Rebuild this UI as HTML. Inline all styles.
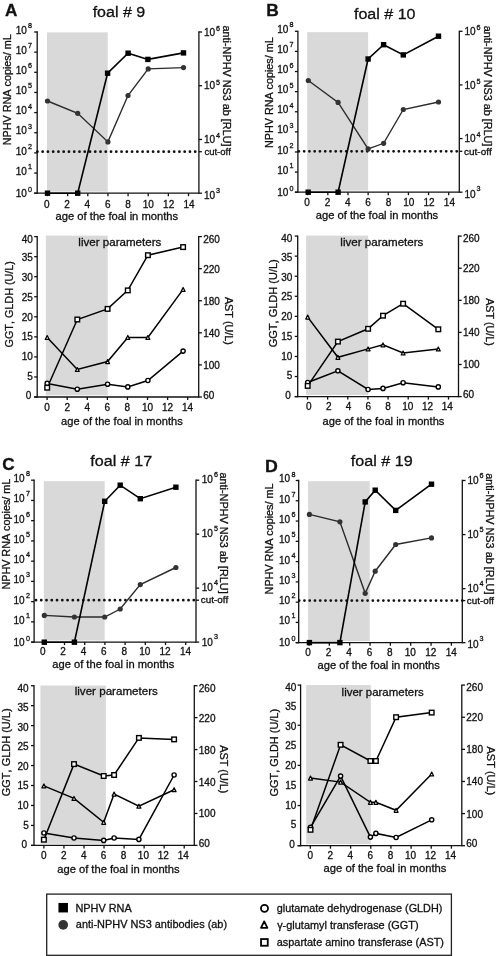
<!DOCTYPE html>
<html><head><meta charset="utf-8"><style>
html,body{margin:0;padding:0;background:#fff;width:497px;height:956px;overflow:hidden}
svg{display:block;will-change:transform;font-family:"Liberation Sans",sans-serif;font-kerning:none}
text{stroke:#111;stroke-width:0.3px}
</style></head><body>
<svg width="497" height="956" viewBox="0 0 497 956">
<rect x="47" y="32.4" width="60.7" height="159.2" fill="#d9d9d9"/>
<line x1="37.4" y1="151.7" x2="198.9" y2="151.7" stroke="#111" stroke-width="2.8" stroke-linecap="round" stroke-dasharray="0 5.26"/>
<line x1="37.2" y1="31.35" x2="37.2" y2="193.85" stroke="#111" stroke-width="1.3"/>
<line x1="198.9" y1="31.35" x2="198.9" y2="193.85" stroke="#111" stroke-width="1.3"/>
<line x1="34.2" y1="193.2" x2="198.9" y2="193.2" stroke="#111" stroke-width="1.3"/>
<line x1="34.2" y1="193.2" x2="37.2" y2="193.2" stroke="#111" stroke-width="1.3"/>
<text x="26.8" y="196.6" font-size="10" text-anchor="end" fill="#111">10</text>
<text x="28" y="191.7" font-size="7.2" fill="#111">0</text>
<line x1="34.2" y1="173.05" x2="37.2" y2="173.05" stroke="#111" stroke-width="1.3"/>
<text x="26.8" y="174.65" font-size="10" text-anchor="end" fill="#111">10</text>
<text x="28" y="169.05" font-size="7.2" fill="#111">1</text>
<line x1="34.2" y1="152.9" x2="37.2" y2="152.9" stroke="#111" stroke-width="1.3"/>
<text x="26.8" y="154.5" font-size="10" text-anchor="end" fill="#111">10</text>
<text x="28" y="148.9" font-size="7.2" fill="#111">2</text>
<line x1="34.2" y1="132.75" x2="37.2" y2="132.75" stroke="#111" stroke-width="1.3"/>
<text x="26.8" y="134.35" font-size="10" text-anchor="end" fill="#111">10</text>
<text x="28" y="128.75" font-size="7.2" fill="#111">3</text>
<line x1="34.2" y1="112.6" x2="37.2" y2="112.6" stroke="#111" stroke-width="1.3"/>
<text x="26.8" y="114.2" font-size="10" text-anchor="end" fill="#111">10</text>
<text x="28" y="108.6" font-size="7.2" fill="#111">4</text>
<line x1="34.2" y1="92.45" x2="37.2" y2="92.45" stroke="#111" stroke-width="1.3"/>
<text x="26.8" y="94.05" font-size="10" text-anchor="end" fill="#111">10</text>
<text x="28" y="88.45" font-size="7.2" fill="#111">5</text>
<line x1="34.2" y1="72.3" x2="37.2" y2="72.3" stroke="#111" stroke-width="1.3"/>
<text x="26.8" y="73.9" font-size="10" text-anchor="end" fill="#111">10</text>
<text x="28" y="68.3" font-size="7.2" fill="#111">6</text>
<line x1="34.2" y1="52.15" x2="37.2" y2="52.15" stroke="#111" stroke-width="1.3"/>
<text x="26.8" y="53.75" font-size="10" text-anchor="end" fill="#111">10</text>
<text x="28" y="48.15" font-size="7.2" fill="#111">7</text>
<line x1="34.2" y1="32" x2="37.2" y2="32" stroke="#111" stroke-width="1.3"/>
<text x="26.8" y="33.6" font-size="10" text-anchor="end" fill="#111">10</text>
<text x="28" y="28" font-size="7.2" fill="#111">8</text>
<line x1="198.9" y1="193.2" x2="202.1" y2="193.2" stroke="#111" stroke-width="1.3"/>
<text x="204" y="198.6" font-size="10" fill="#111">10</text>
<text x="216.1" y="192.7" font-size="7.2" fill="#111">3</text>
<line x1="198.9" y1="139.47" x2="202.1" y2="139.47" stroke="#111" stroke-width="1.3"/>
<text x="204" y="143.07" font-size="10" fill="#111">10</text>
<text x="216.1" y="138.47" font-size="7.2" fill="#111">4</text>
<line x1="198.9" y1="85.73" x2="202.1" y2="85.73" stroke="#111" stroke-width="1.3"/>
<text x="204" y="89.33" font-size="10" fill="#111">10</text>
<text x="216.1" y="84.73" font-size="7.2" fill="#111">5</text>
<line x1="198.9" y1="32" x2="202.1" y2="32" stroke="#111" stroke-width="1.3"/>
<text x="204" y="35.6" font-size="10" fill="#111">10</text>
<text x="216.1" y="31" font-size="7.2" fill="#111">6</text>
<line x1="198.9" y1="151.7" x2="201.9" y2="151.7" stroke="#111" stroke-width="1.3"/>
<line x1="47.5" y1="193.2" x2="47.5" y2="196.2" stroke="#111" stroke-width="1.3"/>
<text x="46.7" y="207.6" font-size="10" text-anchor="middle" fill="#111">0</text>
<line x1="67.64" y1="193.2" x2="67.64" y2="196.2" stroke="#111" stroke-width="1.3"/>
<text x="67.03" y="207.6" font-size="10" text-anchor="middle" fill="#111">2</text>
<line x1="87.79" y1="193.2" x2="87.79" y2="196.2" stroke="#111" stroke-width="1.3"/>
<text x="87.36" y="207.6" font-size="10" text-anchor="middle" fill="#111">4</text>
<line x1="107.93" y1="193.2" x2="107.93" y2="196.2" stroke="#111" stroke-width="1.3"/>
<text x="107.69" y="207.6" font-size="10" text-anchor="middle" fill="#111">6</text>
<line x1="128.07" y1="193.2" x2="128.07" y2="196.2" stroke="#111" stroke-width="1.3"/>
<text x="128.01" y="207.6" font-size="10" text-anchor="middle" fill="#111">8</text>
<line x1="148.21" y1="193.2" x2="148.21" y2="196.2" stroke="#111" stroke-width="1.3"/>
<text x="148.34" y="207.6" font-size="10" text-anchor="middle" fill="#111">10</text>
<line x1="168.36" y1="193.2" x2="168.36" y2="196.2" stroke="#111" stroke-width="1.3"/>
<text x="168.67" y="207.6" font-size="10" text-anchor="middle" fill="#111">12</text>
<line x1="188.5" y1="193.2" x2="188.5" y2="196.2" stroke="#111" stroke-width="1.3"/>
<text x="189" y="207.6" font-size="10" text-anchor="middle" fill="#111">14</text>
<polyline points="47.5,101 77.7,113.3 107.9,141.9 128,95.5 148.2,68.9 183.5,67.6" fill="none" stroke="#2b2b2b" stroke-width="1.4" stroke-linejoin="miter"/>
<polyline points="47.5,193.2 77.7,193.2 107.6,73.2 128.1,53.2 147.9,59.4 183.5,52.9" fill="none" stroke="#000" stroke-width="1.6" stroke-linejoin="miter"/>
<circle cx="47.5" cy="101" r="2.6" fill="#333"/>
<circle cx="77.7" cy="113.3" r="2.6" fill="#333"/>
<circle cx="107.9" cy="141.9" r="2.6" fill="#333"/>
<circle cx="128" cy="95.5" r="2.6" fill="#333"/>
<circle cx="148.2" cy="68.9" r="2.6" fill="#333"/>
<circle cx="183.5" cy="67.6" r="2.6" fill="#333"/>
<rect x="44.8" y="190.5" width="5.4" height="5.4" fill="#000"/>
<rect x="75" y="190.5" width="5.4" height="5.4" fill="#000"/>
<rect x="104.9" y="70.5" width="5.4" height="5.4" fill="#000"/>
<rect x="125.4" y="50.5" width="5.4" height="5.4" fill="#000"/>
<rect x="145.2" y="56.7" width="5.4" height="5.4" fill="#000"/>
<rect x="180.8" y="50.2" width="5.4" height="5.4" fill="#000"/>
<text x="4.97" y="16" font-size="16" textLength="12.38" lengthAdjust="spacingAndGlyphs" fill="#111" font-weight="bold">A</text>
<text x="92.67" y="17.2" font-size="15.5" textLength="52.48" lengthAdjust="spacingAndGlyphs" fill="#111">foal # 9</text>
<text transform="translate(11.2,145.18) rotate(-90)" font-size="10.3" textLength="110.84" lengthAdjust="spacingAndGlyphs" fill="#111">NPHV RNA copies/ mL</text>
<text transform="translate(222.8,25.54) rotate(90)" font-size="10.3" textLength="120.93" lengthAdjust="spacingAndGlyphs" fill="#111">anti-NPHV NS3 ab [RLU]</text>
<text x="204.4" y="155.3" font-size="9" textLength="26.39" lengthAdjust="spacingAndGlyphs" fill="#111">cut-off</text>
<text x="55.52" y="220.1" font-size="11" textLength="122.68" lengthAdjust="spacingAndGlyphs" fill="#111">age of the foal in months</text>
<rect x="45.8" y="235.6" width="61.9" height="159.8" fill="#d9d9d9"/>
<line x1="37.2" y1="235.95" x2="37.2" y2="397.65" stroke="#111" stroke-width="1.3"/>
<line x1="198.7" y1="235.95" x2="198.7" y2="397.65" stroke="#111" stroke-width="1.3"/>
<line x1="34.2" y1="397" x2="198.7" y2="397" stroke="#111" stroke-width="1.3"/>
<line x1="34.2" y1="397" x2="37.2" y2="397" stroke="#111" stroke-width="1.3"/>
<text x="31.3" y="399.38" font-size="10" text-anchor="end" fill="#111">0</text>
<line x1="34.2" y1="376.95" x2="37.2" y2="376.95" stroke="#111" stroke-width="1.3"/>
<text x="32.9" y="379.67" font-size="10" text-anchor="end" fill="#111">5</text>
<line x1="34.2" y1="356.9" x2="37.2" y2="356.9" stroke="#111" stroke-width="1.3"/>
<text x="32.9" y="359.95" font-size="10" text-anchor="end" fill="#111">10</text>
<line x1="34.2" y1="336.85" x2="37.2" y2="336.85" stroke="#111" stroke-width="1.3"/>
<text x="32.9" y="340.24" font-size="10" text-anchor="end" fill="#111">15</text>
<line x1="34.2" y1="316.8" x2="37.2" y2="316.8" stroke="#111" stroke-width="1.3"/>
<text x="32.9" y="320.53" font-size="10" text-anchor="end" fill="#111">20</text>
<line x1="34.2" y1="296.75" x2="37.2" y2="296.75" stroke="#111" stroke-width="1.3"/>
<text x="32.9" y="300.82" font-size="10" text-anchor="end" fill="#111">25</text>
<line x1="34.2" y1="276.7" x2="37.2" y2="276.7" stroke="#111" stroke-width="1.3"/>
<text x="32.9" y="281.1" font-size="10" text-anchor="end" fill="#111">30</text>
<line x1="34.2" y1="256.65" x2="37.2" y2="256.65" stroke="#111" stroke-width="1.3"/>
<text x="32.9" y="261.39" font-size="10" text-anchor="end" fill="#111">35</text>
<line x1="34.2" y1="236.6" x2="37.2" y2="236.6" stroke="#111" stroke-width="1.3"/>
<text x="32.9" y="242.88" font-size="10" text-anchor="end" fill="#111">40</text>
<line x1="198.7" y1="397" x2="201.9" y2="397" stroke="#111" stroke-width="1.3"/>
<text x="203.2" y="398.58" font-size="10" fill="#111">60</text>
<line x1="198.7" y1="364.92" x2="201.9" y2="364.92" stroke="#111" stroke-width="1.3"/>
<text x="203.2" y="368.9" font-size="10" fill="#111">100</text>
<line x1="198.7" y1="332.84" x2="201.9" y2="332.84" stroke="#111" stroke-width="1.3"/>
<text x="203.2" y="336.82" font-size="10" fill="#111">140</text>
<line x1="198.7" y1="300.76" x2="201.9" y2="300.76" stroke="#111" stroke-width="1.3"/>
<text x="203.2" y="304.74" font-size="10" fill="#111">180</text>
<line x1="198.7" y1="268.68" x2="201.9" y2="268.68" stroke="#111" stroke-width="1.3"/>
<text x="203.2" y="272.66" font-size="10" fill="#111">220</text>
<line x1="198.7" y1="236.6" x2="201.9" y2="236.6" stroke="#111" stroke-width="1.3"/>
<text x="203.2" y="242.98" font-size="10" fill="#111">260</text>
<line x1="47.1" y1="397" x2="47.1" y2="400" stroke="#111" stroke-width="1.3"/>
<text x="47.1" y="411" font-size="10" text-anchor="middle" fill="#111">0</text>
<line x1="67.19" y1="397" x2="67.19" y2="400" stroke="#111" stroke-width="1.3"/>
<text x="67.17" y="411" font-size="10" text-anchor="middle" fill="#111">2</text>
<line x1="87.27" y1="397" x2="87.27" y2="400" stroke="#111" stroke-width="1.3"/>
<text x="87.24" y="411" font-size="10" text-anchor="middle" fill="#111">4</text>
<line x1="107.36" y1="397" x2="107.36" y2="400" stroke="#111" stroke-width="1.3"/>
<text x="107.31" y="411" font-size="10" text-anchor="middle" fill="#111">6</text>
<line x1="127.44" y1="397" x2="127.44" y2="400" stroke="#111" stroke-width="1.3"/>
<text x="127.39" y="411" font-size="10" text-anchor="middle" fill="#111">8</text>
<line x1="147.53" y1="397" x2="147.53" y2="400" stroke="#111" stroke-width="1.3"/>
<text x="147.46" y="411" font-size="10" text-anchor="middle" fill="#111">10</text>
<line x1="167.61" y1="397" x2="167.61" y2="400" stroke="#111" stroke-width="1.3"/>
<text x="167.53" y="411" font-size="10" text-anchor="middle" fill="#111">12</text>
<line x1="187.7" y1="397" x2="187.7" y2="400" stroke="#111" stroke-width="1.3"/>
<text x="187.6" y="411" font-size="10" text-anchor="middle" fill="#111">14</text>
<polyline points="47.2,383.4 77.3,389.2 107.6,384.2 127.8,386.9 147.9,380.5 183.1,351.1" fill="none" stroke="#000" stroke-width="1.5" stroke-linejoin="miter"/>
<polyline points="47.2,337.5 77.3,369.5 107.6,361.6 127.8,337.4 147.9,337.4 183.1,289.4" fill="none" stroke="#000" stroke-width="1.5" stroke-linejoin="miter"/>
<polyline points="47.2,387.7 77.3,319.5 107.6,308.9 127.8,290.4 147.9,255.2 183.1,247.1" fill="none" stroke="#000" stroke-width="1.5" stroke-linejoin="miter"/>
<circle cx="47.2" cy="383.4" r="2.1" fill="#fff" stroke="#000" stroke-width="1.4"/>
<circle cx="77.3" cy="389.2" r="2.1" fill="#fff" stroke="#000" stroke-width="1.4"/>
<circle cx="107.6" cy="384.2" r="2.1" fill="#fff" stroke="#000" stroke-width="1.4"/>
<circle cx="127.8" cy="386.9" r="2.1" fill="#fff" stroke="#000" stroke-width="1.4"/>
<circle cx="147.9" cy="380.5" r="2.1" fill="#fff" stroke="#000" stroke-width="1.4"/>
<circle cx="183.1" cy="351.1" r="2.1" fill="#fff" stroke="#000" stroke-width="1.4"/>
<polygon points="47.2,335.55 45.25,339.45 49.15,339.45" fill="#fff" stroke="#000" stroke-width="1.25" stroke-linejoin="round"/>
<polygon points="77.3,367.55 75.35,371.45 79.25,371.45" fill="#fff" stroke="#000" stroke-width="1.25" stroke-linejoin="round"/>
<polygon points="107.6,359.65 105.65,363.55 109.55,363.55" fill="#fff" stroke="#000" stroke-width="1.25" stroke-linejoin="round"/>
<polygon points="127.8,335.45 125.85,339.35 129.75,339.35" fill="#fff" stroke="#000" stroke-width="1.25" stroke-linejoin="round"/>
<polygon points="147.9,335.45 145.95,339.35 149.85,339.35" fill="#fff" stroke="#000" stroke-width="1.25" stroke-linejoin="round"/>
<polygon points="183.1,287.45 181.15,291.35 185.05,291.35" fill="#fff" stroke="#000" stroke-width="1.25" stroke-linejoin="round"/>
<rect x="44.9" y="385.4" width="4.6" height="4.6" fill="#fff" stroke="#000" stroke-width="1.4"/>
<rect x="75" y="317.2" width="4.6" height="4.6" fill="#fff" stroke="#000" stroke-width="1.4"/>
<rect x="105.3" y="306.6" width="4.6" height="4.6" fill="#fff" stroke="#000" stroke-width="1.4"/>
<rect x="125.5" y="288.1" width="4.6" height="4.6" fill="#fff" stroke="#000" stroke-width="1.4"/>
<rect x="145.6" y="252.9" width="4.6" height="4.6" fill="#fff" stroke="#000" stroke-width="1.4"/>
<rect x="180.8" y="244.8" width="4.6" height="4.6" fill="#fff" stroke="#000" stroke-width="1.4"/>
<text x="78.32" y="245.9" font-size="11" textLength="83" lengthAdjust="spacingAndGlyphs" fill="#111">liver parameters</text>
<text transform="translate(12.6,347.44) rotate(-90)" font-size="10.3" textLength="86.41" lengthAdjust="spacingAndGlyphs" fill="#111">GGT, GLDH (U/L)</text>
<text transform="translate(225.2,296.88) rotate(90)" font-size="10.3" textLength="48.09" lengthAdjust="spacingAndGlyphs" fill="#111">AST (U/L)</text>
<text x="61.13" y="424.6" font-size="11" textLength="121.57" lengthAdjust="spacingAndGlyphs" fill="#111">age of the foal in months</text>
<rect x="307.2" y="32.2" width="60.9" height="158.4" fill="#d9d9d9"/>
<line x1="298.9" y1="151.3" x2="459.3" y2="151.3" stroke="#111" stroke-width="2.8" stroke-linecap="round" stroke-dasharray="0 5.26"/>
<line x1="297.9" y1="30.65" x2="297.9" y2="192.85" stroke="#111" stroke-width="1.3"/>
<line x1="459.3" y1="30.65" x2="459.3" y2="192.85" stroke="#111" stroke-width="1.3"/>
<line x1="294.9" y1="192.2" x2="459.3" y2="192.2" stroke="#111" stroke-width="1.3"/>
<line x1="294.9" y1="192.2" x2="297.9" y2="192.2" stroke="#111" stroke-width="1.3"/>
<text x="288.3" y="195.6" font-size="10" text-anchor="end" fill="#111">10</text>
<text x="289.5" y="190.7" font-size="7.2" fill="#111">0</text>
<line x1="294.9" y1="172.09" x2="297.9" y2="172.09" stroke="#111" stroke-width="1.3"/>
<text x="288.3" y="173.69" font-size="10" text-anchor="end" fill="#111">10</text>
<text x="289.5" y="168.09" font-size="7.2" fill="#111">1</text>
<line x1="294.9" y1="151.97" x2="297.9" y2="151.97" stroke="#111" stroke-width="1.3"/>
<text x="288.3" y="153.57" font-size="10" text-anchor="end" fill="#111">10</text>
<text x="289.5" y="147.97" font-size="7.2" fill="#111">2</text>
<line x1="294.9" y1="131.86" x2="297.9" y2="131.86" stroke="#111" stroke-width="1.3"/>
<text x="288.3" y="133.46" font-size="10" text-anchor="end" fill="#111">10</text>
<text x="289.5" y="127.86" font-size="7.2" fill="#111">3</text>
<line x1="294.9" y1="111.75" x2="297.9" y2="111.75" stroke="#111" stroke-width="1.3"/>
<text x="288.3" y="113.35" font-size="10" text-anchor="end" fill="#111">10</text>
<text x="289.5" y="107.75" font-size="7.2" fill="#111">4</text>
<line x1="294.9" y1="91.64" x2="297.9" y2="91.64" stroke="#111" stroke-width="1.3"/>
<text x="288.3" y="93.24" font-size="10" text-anchor="end" fill="#111">10</text>
<text x="289.5" y="87.64" font-size="7.2" fill="#111">5</text>
<line x1="294.9" y1="71.53" x2="297.9" y2="71.53" stroke="#111" stroke-width="1.3"/>
<text x="288.3" y="73.12" font-size="10" text-anchor="end" fill="#111">10</text>
<text x="289.5" y="67.53" font-size="7.2" fill="#111">6</text>
<line x1="294.9" y1="51.41" x2="297.9" y2="51.41" stroke="#111" stroke-width="1.3"/>
<text x="288.3" y="53.01" font-size="10" text-anchor="end" fill="#111">10</text>
<text x="289.5" y="47.41" font-size="7.2" fill="#111">7</text>
<line x1="294.9" y1="31.3" x2="297.9" y2="31.3" stroke="#111" stroke-width="1.3"/>
<text x="288.3" y="32.9" font-size="10" text-anchor="end" fill="#111">10</text>
<text x="289.5" y="27.3" font-size="7.2" fill="#111">8</text>
<line x1="459.3" y1="192.2" x2="462.5" y2="192.2" stroke="#111" stroke-width="1.3"/>
<text x="464.4" y="197.9" font-size="10" fill="#111">10</text>
<text x="476.5" y="191.3" font-size="7.2" fill="#111">3</text>
<line x1="459.3" y1="138.57" x2="462.5" y2="138.57" stroke="#111" stroke-width="1.3"/>
<text x="464.4" y="142.47" font-size="10" fill="#111">10</text>
<text x="476.5" y="137.17" font-size="7.2" fill="#111">4</text>
<line x1="459.3" y1="84.93" x2="462.5" y2="84.93" stroke="#111" stroke-width="1.3"/>
<text x="464.4" y="88.83" font-size="10" fill="#111">10</text>
<text x="476.5" y="83.53" font-size="7.2" fill="#111">5</text>
<line x1="459.3" y1="31.3" x2="462.5" y2="31.3" stroke="#111" stroke-width="1.3"/>
<text x="464.4" y="35.2" font-size="10" fill="#111">10</text>
<text x="476.5" y="29.9" font-size="7.2" fill="#111">6</text>
<line x1="459.3" y1="151.3" x2="462.3" y2="151.3" stroke="#111" stroke-width="1.3"/>
<line x1="307.7" y1="192.2" x2="307.7" y2="195.2" stroke="#111" stroke-width="1.3"/>
<text x="307.1" y="206.4" font-size="10" text-anchor="middle" fill="#111">0</text>
<line x1="327.84" y1="192.2" x2="327.84" y2="195.2" stroke="#111" stroke-width="1.3"/>
<text x="327.43" y="206.4" font-size="10" text-anchor="middle" fill="#111">2</text>
<line x1="347.99" y1="192.2" x2="347.99" y2="195.2" stroke="#111" stroke-width="1.3"/>
<text x="347.76" y="206.4" font-size="10" text-anchor="middle" fill="#111">4</text>
<line x1="368.13" y1="192.2" x2="368.13" y2="195.2" stroke="#111" stroke-width="1.3"/>
<text x="368.09" y="206.4" font-size="10" text-anchor="middle" fill="#111">6</text>
<line x1="388.27" y1="192.2" x2="388.27" y2="195.2" stroke="#111" stroke-width="1.3"/>
<text x="388.41" y="206.4" font-size="10" text-anchor="middle" fill="#111">8</text>
<line x1="408.41" y1="192.2" x2="408.41" y2="195.2" stroke="#111" stroke-width="1.3"/>
<text x="408.74" y="206.4" font-size="10" text-anchor="middle" fill="#111">10</text>
<line x1="428.56" y1="192.2" x2="428.56" y2="195.2" stroke="#111" stroke-width="1.3"/>
<text x="429.07" y="206.4" font-size="10" text-anchor="middle" fill="#111">12</text>
<line x1="448.7" y1="192.2" x2="448.7" y2="195.2" stroke="#111" stroke-width="1.3"/>
<text x="449.4" y="206.4" font-size="10" text-anchor="middle" fill="#111">14</text>
<polyline points="308.3,80.5 338.1,102.4 368.1,148.9 383.6,143.3 403.3,109.5 438.5,102" fill="none" stroke="#2b2b2b" stroke-width="1.4" stroke-linejoin="miter"/>
<polyline points="308.2,192.2 338.1,192.2 368.1,59 383.6,44.7 403.3,54.9 438.5,36.2" fill="none" stroke="#000" stroke-width="1.6" stroke-linejoin="miter"/>
<circle cx="308.3" cy="80.5" r="2.6" fill="#333"/>
<circle cx="338.1" cy="102.4" r="2.6" fill="#333"/>
<circle cx="368.1" cy="148.9" r="2.6" fill="#333"/>
<circle cx="383.6" cy="143.3" r="2.6" fill="#333"/>
<circle cx="403.3" cy="109.5" r="2.6" fill="#333"/>
<circle cx="438.5" cy="102" r="2.6" fill="#333"/>
<rect x="305.5" y="189.5" width="5.4" height="5.4" fill="#000"/>
<rect x="335.4" y="189.5" width="5.4" height="5.4" fill="#000"/>
<rect x="365.4" y="56.3" width="5.4" height="5.4" fill="#000"/>
<rect x="380.9" y="42" width="5.4" height="5.4" fill="#000"/>
<rect x="400.6" y="52.2" width="5.4" height="5.4" fill="#000"/>
<rect x="435.8" y="33.5" width="5.4" height="5.4" fill="#000"/>
<text x="266.34" y="15.6" font-size="16" textLength="12.55" lengthAdjust="spacingAndGlyphs" fill="#111" font-weight="bold">B</text>
<text x="353.97" y="18.8" font-size="15.5" textLength="61.55" lengthAdjust="spacingAndGlyphs" fill="#111">foal # 10</text>
<text transform="translate(273.1,147.98) rotate(-90)" font-size="10.3" textLength="110.64" lengthAdjust="spacingAndGlyphs" fill="#111">NPHV RNA copies/ mL</text>
<text transform="translate(484.3,25.64) rotate(90)" font-size="10.3" textLength="120.63" lengthAdjust="spacingAndGlyphs" fill="#111">anti-NPHV NS3 ab [RLU]</text>
<text x="464.08" y="154.6" font-size="9" textLength="27.61" lengthAdjust="spacingAndGlyphs" fill="#111">cut-off</text>
<text x="315.72" y="218.7" font-size="11" textLength="122.48" lengthAdjust="spacingAndGlyphs" fill="#111">age of the foal in months</text>
<rect x="306.1" y="235.6" width="62" height="159.4" fill="#d9d9d9"/>
<line x1="297.7" y1="235.45" x2="297.7" y2="397.25" stroke="#111" stroke-width="1.3"/>
<line x1="458.5" y1="235.45" x2="458.5" y2="397.25" stroke="#111" stroke-width="1.3"/>
<line x1="294.7" y1="396.6" x2="458.5" y2="396.6" stroke="#111" stroke-width="1.3"/>
<line x1="294.7" y1="396.6" x2="297.7" y2="396.6" stroke="#111" stroke-width="1.3"/>
<text x="290.7" y="398.98" font-size="10" text-anchor="end" fill="#111">0</text>
<line x1="294.7" y1="376.54" x2="297.7" y2="376.54" stroke="#111" stroke-width="1.3"/>
<text x="292.3" y="379.25" font-size="10" text-anchor="end" fill="#111">5</text>
<line x1="294.7" y1="356.48" x2="297.7" y2="356.48" stroke="#111" stroke-width="1.3"/>
<text x="292.3" y="359.53" font-size="10" text-anchor="end" fill="#111">10</text>
<line x1="294.7" y1="336.41" x2="297.7" y2="336.41" stroke="#111" stroke-width="1.3"/>
<text x="292.3" y="339.81" font-size="10" text-anchor="end" fill="#111">15</text>
<line x1="294.7" y1="316.35" x2="297.7" y2="316.35" stroke="#111" stroke-width="1.3"/>
<text x="292.3" y="320.08" font-size="10" text-anchor="end" fill="#111">20</text>
<line x1="294.7" y1="296.29" x2="297.7" y2="296.29" stroke="#111" stroke-width="1.3"/>
<text x="292.3" y="300.36" font-size="10" text-anchor="end" fill="#111">25</text>
<line x1="294.7" y1="276.23" x2="297.7" y2="276.23" stroke="#111" stroke-width="1.3"/>
<text x="292.3" y="280.63" font-size="10" text-anchor="end" fill="#111">30</text>
<line x1="294.7" y1="256.16" x2="297.7" y2="256.16" stroke="#111" stroke-width="1.3"/>
<text x="292.3" y="260.91" font-size="10" text-anchor="end" fill="#111">35</text>
<line x1="294.7" y1="236.1" x2="297.7" y2="236.1" stroke="#111" stroke-width="1.3"/>
<text x="292.3" y="242.38" font-size="10" text-anchor="end" fill="#111">40</text>
<line x1="458.5" y1="396.6" x2="461.7" y2="396.6" stroke="#111" stroke-width="1.3"/>
<text x="463" y="398.18" font-size="10" fill="#111">60</text>
<line x1="458.5" y1="364.5" x2="461.7" y2="364.5" stroke="#111" stroke-width="1.3"/>
<text x="463" y="368.48" font-size="10" fill="#111">100</text>
<line x1="458.5" y1="332.4" x2="461.7" y2="332.4" stroke="#111" stroke-width="1.3"/>
<text x="463" y="336.38" font-size="10" fill="#111">140</text>
<line x1="458.5" y1="300.3" x2="461.7" y2="300.3" stroke="#111" stroke-width="1.3"/>
<text x="463" y="304.28" font-size="10" fill="#111">180</text>
<line x1="458.5" y1="268.2" x2="461.7" y2="268.2" stroke="#111" stroke-width="1.3"/>
<text x="463" y="272.18" font-size="10" fill="#111">220</text>
<line x1="458.5" y1="236.1" x2="461.7" y2="236.1" stroke="#111" stroke-width="1.3"/>
<text x="463" y="242.48" font-size="10" fill="#111">260</text>
<line x1="307.5" y1="396.6" x2="307.5" y2="399.6" stroke="#111" stroke-width="1.3"/>
<text x="308.9" y="409.5" font-size="10" text-anchor="middle" fill="#111">0</text>
<line x1="327.64" y1="396.6" x2="327.64" y2="399.6" stroke="#111" stroke-width="1.3"/>
<text x="328.66" y="409.5" font-size="10" text-anchor="middle" fill="#111">2</text>
<line x1="347.79" y1="396.6" x2="347.79" y2="399.6" stroke="#111" stroke-width="1.3"/>
<text x="348.41" y="409.5" font-size="10" text-anchor="middle" fill="#111">4</text>
<line x1="367.93" y1="396.6" x2="367.93" y2="399.6" stroke="#111" stroke-width="1.3"/>
<text x="368.17" y="409.5" font-size="10" text-anchor="middle" fill="#111">6</text>
<line x1="388.07" y1="396.6" x2="388.07" y2="399.6" stroke="#111" stroke-width="1.3"/>
<text x="387.93" y="409.5" font-size="10" text-anchor="middle" fill="#111">8</text>
<line x1="408.21" y1="396.6" x2="408.21" y2="399.6" stroke="#111" stroke-width="1.3"/>
<text x="407.69" y="409.5" font-size="10" text-anchor="middle" fill="#111">10</text>
<line x1="428.36" y1="396.6" x2="428.36" y2="399.6" stroke="#111" stroke-width="1.3"/>
<text x="427.44" y="409.5" font-size="10" text-anchor="middle" fill="#111">12</text>
<line x1="448.5" y1="396.6" x2="448.5" y2="399.6" stroke="#111" stroke-width="1.3"/>
<text x="447.2" y="409.5" font-size="10" text-anchor="middle" fill="#111">14</text>
<polyline points="307.7,382.5 337.9,370.8 368.1,389.5 383,388.4 403.1,382.7 438.3,386.9" fill="none" stroke="#000" stroke-width="1.5" stroke-linejoin="miter"/>
<polyline points="307.7,317.1 337.9,357.3 368.1,348.9 383,344.9 403.1,353 438.3,349" fill="none" stroke="#000" stroke-width="1.5" stroke-linejoin="miter"/>
<polyline points="307.7,385.9 337.9,341.6 368.1,328.8 383,315.7 403.1,303.7 438.3,329.3" fill="none" stroke="#000" stroke-width="1.5" stroke-linejoin="miter"/>
<circle cx="307.7" cy="382.5" r="2.1" fill="#fff" stroke="#000" stroke-width="1.4"/>
<circle cx="337.9" cy="370.8" r="2.1" fill="#fff" stroke="#000" stroke-width="1.4"/>
<circle cx="368.1" cy="389.5" r="2.1" fill="#fff" stroke="#000" stroke-width="1.4"/>
<circle cx="383" cy="388.4" r="2.1" fill="#fff" stroke="#000" stroke-width="1.4"/>
<circle cx="403.1" cy="382.7" r="2.1" fill="#fff" stroke="#000" stroke-width="1.4"/>
<circle cx="438.3" cy="386.9" r="2.1" fill="#fff" stroke="#000" stroke-width="1.4"/>
<polygon points="307.7,315.15 305.75,319.05 309.65,319.05" fill="#fff" stroke="#000" stroke-width="1.25" stroke-linejoin="round"/>
<polygon points="337.9,355.35 335.95,359.25 339.85,359.25" fill="#fff" stroke="#000" stroke-width="1.25" stroke-linejoin="round"/>
<polygon points="368.1,346.95 366.15,350.85 370.05,350.85" fill="#fff" stroke="#000" stroke-width="1.25" stroke-linejoin="round"/>
<polygon points="383,342.95 381.05,346.85 384.95,346.85" fill="#fff" stroke="#000" stroke-width="1.25" stroke-linejoin="round"/>
<polygon points="403.1,351.05 401.15,354.95 405.05,354.95" fill="#fff" stroke="#000" stroke-width="1.25" stroke-linejoin="round"/>
<polygon points="438.3,347.05 436.35,350.95 440.25,350.95" fill="#fff" stroke="#000" stroke-width="1.25" stroke-linejoin="round"/>
<rect x="305.4" y="383.6" width="4.6" height="4.6" fill="#fff" stroke="#000" stroke-width="1.4"/>
<rect x="335.6" y="339.3" width="4.6" height="4.6" fill="#fff" stroke="#000" stroke-width="1.4"/>
<rect x="365.8" y="326.5" width="4.6" height="4.6" fill="#fff" stroke="#000" stroke-width="1.4"/>
<rect x="380.7" y="313.4" width="4.6" height="4.6" fill="#fff" stroke="#000" stroke-width="1.4"/>
<rect x="400.8" y="301.4" width="4.6" height="4.6" fill="#fff" stroke="#000" stroke-width="1.4"/>
<rect x="436" y="327" width="4.6" height="4.6" fill="#fff" stroke="#000" stroke-width="1.4"/>
<text x="340.32" y="245.5" font-size="11" textLength="83.1" lengthAdjust="spacingAndGlyphs" fill="#111">liver parameters</text>
<text transform="translate(277,347.35) rotate(-90)" font-size="10.3" textLength="88.14" lengthAdjust="spacingAndGlyphs" fill="#111">GGT, GLDH (U/L)</text>
<text transform="translate(485.5,298.18) rotate(90)" font-size="10.3" textLength="47.69" lengthAdjust="spacingAndGlyphs" fill="#111">AST (U/L)</text>
<text x="322.53" y="425.2" font-size="11" textLength="121.87" lengthAdjust="spacingAndGlyphs" fill="#111">age of the foal in months</text>
<rect x="43.8" y="481.2" width="60.9" height="159.3" fill="#d9d9d9"/>
<line x1="36" y1="600.2" x2="196" y2="600.2" stroke="#111" stroke-width="2.8" stroke-linecap="round" stroke-dasharray="0 5.26"/>
<line x1="34.1" y1="479.55" x2="34.1" y2="642.75" stroke="#111" stroke-width="1.3"/>
<line x1="196" y1="479.55" x2="196" y2="642.75" stroke="#111" stroke-width="1.3"/>
<line x1="31.1" y1="642.1" x2="196" y2="642.1" stroke="#111" stroke-width="1.3"/>
<line x1="31.1" y1="642.1" x2="34.1" y2="642.1" stroke="#111" stroke-width="1.3"/>
<text x="24.7" y="645.8" font-size="10" text-anchor="end" fill="#111">10</text>
<text x="25.9" y="640.6" font-size="7.2" fill="#111">0</text>
<line x1="31.1" y1="621.86" x2="34.1" y2="621.86" stroke="#111" stroke-width="1.3"/>
<text x="24.7" y="623.76" font-size="10" text-anchor="end" fill="#111">10</text>
<text x="25.9" y="617.86" font-size="7.2" fill="#111">1</text>
<line x1="31.1" y1="601.62" x2="34.1" y2="601.62" stroke="#111" stroke-width="1.3"/>
<text x="24.7" y="603.52" font-size="10" text-anchor="end" fill="#111">10</text>
<text x="25.9" y="597.62" font-size="7.2" fill="#111">2</text>
<line x1="31.1" y1="581.39" x2="34.1" y2="581.39" stroke="#111" stroke-width="1.3"/>
<text x="24.7" y="583.29" font-size="10" text-anchor="end" fill="#111">10</text>
<text x="25.9" y="577.39" font-size="7.2" fill="#111">3</text>
<line x1="31.1" y1="561.15" x2="34.1" y2="561.15" stroke="#111" stroke-width="1.3"/>
<text x="24.7" y="563.05" font-size="10" text-anchor="end" fill="#111">10</text>
<text x="25.9" y="557.15" font-size="7.2" fill="#111">4</text>
<line x1="31.1" y1="540.91" x2="34.1" y2="540.91" stroke="#111" stroke-width="1.3"/>
<text x="24.7" y="542.81" font-size="10" text-anchor="end" fill="#111">10</text>
<text x="25.9" y="536.91" font-size="7.2" fill="#111">5</text>
<line x1="31.1" y1="520.67" x2="34.1" y2="520.67" stroke="#111" stroke-width="1.3"/>
<text x="24.7" y="522.57" font-size="10" text-anchor="end" fill="#111">10</text>
<text x="25.9" y="516.67" font-size="7.2" fill="#111">6</text>
<line x1="31.1" y1="500.44" x2="34.1" y2="500.44" stroke="#111" stroke-width="1.3"/>
<text x="24.7" y="502.34" font-size="10" text-anchor="end" fill="#111">10</text>
<text x="25.9" y="496.44" font-size="7.2" fill="#111">7</text>
<line x1="31.1" y1="480.2" x2="34.1" y2="480.2" stroke="#111" stroke-width="1.3"/>
<text x="24.7" y="482.1" font-size="10" text-anchor="end" fill="#111">10</text>
<text x="25.9" y="476.2" font-size="7.2" fill="#111">8</text>
<line x1="196" y1="642.1" x2="199.2" y2="642.1" stroke="#111" stroke-width="1.3"/>
<text x="201.8" y="646.3" font-size="10" fill="#111">10</text>
<text x="213.9" y="639.4" font-size="7.2" fill="#111">3</text>
<line x1="196" y1="588.13" x2="199.2" y2="588.13" stroke="#111" stroke-width="1.3"/>
<text x="201.8" y="590.53" font-size="10" fill="#111">10</text>
<text x="213.9" y="584.93" font-size="7.2" fill="#111">4</text>
<line x1="196" y1="534.17" x2="199.2" y2="534.17" stroke="#111" stroke-width="1.3"/>
<text x="201.8" y="536.57" font-size="10" fill="#111">10</text>
<text x="213.9" y="530.97" font-size="7.2" fill="#111">5</text>
<line x1="196" y1="480.2" x2="199.2" y2="480.2" stroke="#111" stroke-width="1.3"/>
<text x="201.8" y="482.6" font-size="10" fill="#111">10</text>
<text x="213.9" y="477" font-size="7.2" fill="#111">6</text>
<line x1="196" y1="600.2" x2="199" y2="600.2" stroke="#111" stroke-width="1.3"/>
<line x1="44.3" y1="642.1" x2="44.3" y2="645.1" stroke="#111" stroke-width="1.3"/>
<text x="42.7" y="654.9" font-size="10" text-anchor="middle" fill="#111">0</text>
<line x1="64.5" y1="642.1" x2="64.5" y2="645.1" stroke="#111" stroke-width="1.3"/>
<text x="63.1" y="654.9" font-size="10" text-anchor="middle" fill="#111">2</text>
<line x1="84.7" y1="642.1" x2="84.7" y2="645.1" stroke="#111" stroke-width="1.3"/>
<text x="83.5" y="654.9" font-size="10" text-anchor="middle" fill="#111">4</text>
<line x1="104.9" y1="642.1" x2="104.9" y2="645.1" stroke="#111" stroke-width="1.3"/>
<text x="103.9" y="654.9" font-size="10" text-anchor="middle" fill="#111">6</text>
<line x1="125.1" y1="642.1" x2="125.1" y2="645.1" stroke="#111" stroke-width="1.3"/>
<text x="124.3" y="654.9" font-size="10" text-anchor="middle" fill="#111">8</text>
<line x1="145.3" y1="642.1" x2="145.3" y2="645.1" stroke="#111" stroke-width="1.3"/>
<text x="144.7" y="654.9" font-size="10" text-anchor="middle" fill="#111">10</text>
<line x1="165.5" y1="642.1" x2="165.5" y2="645.1" stroke="#111" stroke-width="1.3"/>
<text x="165.1" y="654.9" font-size="10" text-anchor="middle" fill="#111">12</text>
<line x1="185.7" y1="642.1" x2="185.7" y2="645.1" stroke="#111" stroke-width="1.3"/>
<text x="185.5" y="654.9" font-size="10" text-anchor="middle" fill="#111">14</text>
<polyline points="44.3,615.4 74.4,617 104.7,617 120.2,609 140.3,584.6 175.9,567.5" fill="none" stroke="#2b2b2b" stroke-width="1.4" stroke-linejoin="miter"/>
<polyline points="44.3,642.2 74.4,642.2 104.7,501.3 120.2,485.2 140.3,498.7 175.9,487.2" fill="none" stroke="#000" stroke-width="1.6" stroke-linejoin="miter"/>
<circle cx="44.3" cy="615.4" r="2.6" fill="#333"/>
<circle cx="74.4" cy="617" r="2.6" fill="#333"/>
<circle cx="104.7" cy="617" r="2.6" fill="#333"/>
<circle cx="120.2" cy="609" r="2.6" fill="#333"/>
<circle cx="140.3" cy="584.6" r="2.6" fill="#333"/>
<circle cx="175.9" cy="567.5" r="2.6" fill="#333"/>
<rect x="41.6" y="639.5" width="5.4" height="5.4" fill="#000"/>
<rect x="71.7" y="639.5" width="5.4" height="5.4" fill="#000"/>
<rect x="102" y="498.6" width="5.4" height="5.4" fill="#000"/>
<rect x="117.5" y="482.5" width="5.4" height="5.4" fill="#000"/>
<rect x="137.6" y="496" width="5.4" height="5.4" fill="#000"/>
<rect x="173.2" y="484.5" width="5.4" height="5.4" fill="#000"/>
<text x="2.3" y="469.9" font-size="16" textLength="12.37" lengthAdjust="spacingAndGlyphs" fill="#111" font-weight="bold">C</text>
<text x="90.37" y="466.1" font-size="15.5" textLength="61.84" lengthAdjust="spacingAndGlyphs" fill="#111">foal # 17</text>
<text transform="translate(9.6,589.58) rotate(-90)" font-size="10.3" textLength="110.84" lengthAdjust="spacingAndGlyphs" fill="#111">NPHV RNA copies/ mL</text>
<text transform="translate(220,472.44) rotate(90)" font-size="10.3" textLength="121.23" lengthAdjust="spacingAndGlyphs" fill="#111">anti-NPHV NS3 ab [RLU]</text>
<text x="200.88" y="603.4" font-size="9" textLength="27.4" lengthAdjust="spacingAndGlyphs" fill="#111">cut-off</text>
<text x="52.23" y="668.1" font-size="11" textLength="122.18" lengthAdjust="spacingAndGlyphs" fill="#111">age of the foal in months</text>
<rect x="40.4" y="685.5" width="65.5" height="158.3" fill="#d9d9d9"/>
<line x1="34" y1="685.05" x2="34" y2="846.05" stroke="#111" stroke-width="1.3"/>
<line x1="194.3" y1="685.05" x2="194.3" y2="846.05" stroke="#111" stroke-width="1.3"/>
<line x1="31" y1="845.4" x2="194.3" y2="845.4" stroke="#111" stroke-width="1.3"/>
<line x1="31" y1="845.4" x2="34" y2="845.4" stroke="#111" stroke-width="1.3"/>
<text x="27.1" y="848.28" font-size="10" text-anchor="end" fill="#111">0</text>
<line x1="31" y1="825.44" x2="34" y2="825.44" stroke="#111" stroke-width="1.3"/>
<text x="28.7" y="828.66" font-size="10" text-anchor="end" fill="#111">5</text>
<line x1="31" y1="805.48" x2="34" y2="805.48" stroke="#111" stroke-width="1.3"/>
<text x="28.7" y="809.03" font-size="10" text-anchor="end" fill="#111">10</text>
<line x1="31" y1="785.51" x2="34" y2="785.51" stroke="#111" stroke-width="1.3"/>
<text x="28.7" y="789.41" font-size="10" text-anchor="end" fill="#111">15</text>
<line x1="31" y1="765.55" x2="34" y2="765.55" stroke="#111" stroke-width="1.3"/>
<text x="28.7" y="769.78" font-size="10" text-anchor="end" fill="#111">20</text>
<line x1="31" y1="745.59" x2="34" y2="745.59" stroke="#111" stroke-width="1.3"/>
<text x="28.7" y="750.15" font-size="10" text-anchor="end" fill="#111">25</text>
<line x1="31" y1="725.62" x2="34" y2="725.62" stroke="#111" stroke-width="1.3"/>
<text x="28.7" y="730.53" font-size="10" text-anchor="end" fill="#111">30</text>
<line x1="31" y1="705.66" x2="34" y2="705.66" stroke="#111" stroke-width="1.3"/>
<text x="28.7" y="710.91" font-size="10" text-anchor="end" fill="#111">35</text>
<line x1="31" y1="685.7" x2="34" y2="685.7" stroke="#111" stroke-width="1.3"/>
<text x="28.7" y="692.48" font-size="10" text-anchor="end" fill="#111">40</text>
<line x1="194.3" y1="845.4" x2="197.5" y2="845.4" stroke="#111" stroke-width="1.3"/>
<text x="198.8" y="846.98" font-size="10" fill="#111">60</text>
<line x1="194.3" y1="813.46" x2="197.5" y2="813.46" stroke="#111" stroke-width="1.3"/>
<text x="198.8" y="817.44" font-size="10" fill="#111">100</text>
<line x1="194.3" y1="781.52" x2="197.5" y2="781.52" stroke="#111" stroke-width="1.3"/>
<text x="198.8" y="785.5" font-size="10" fill="#111">140</text>
<line x1="194.3" y1="749.58" x2="197.5" y2="749.58" stroke="#111" stroke-width="1.3"/>
<text x="198.8" y="753.56" font-size="10" fill="#111">180</text>
<line x1="194.3" y1="717.64" x2="197.5" y2="717.64" stroke="#111" stroke-width="1.3"/>
<text x="198.8" y="721.62" font-size="10" fill="#111">220</text>
<line x1="194.3" y1="685.7" x2="197.5" y2="685.7" stroke="#111" stroke-width="1.3"/>
<text x="198.8" y="692.08" font-size="10" fill="#111">260</text>
<line x1="43.9" y1="845.4" x2="43.9" y2="848.4" stroke="#111" stroke-width="1.3"/>
<text x="43.9" y="859.2" font-size="10" text-anchor="middle" fill="#111">0</text>
<line x1="63.94" y1="845.4" x2="63.94" y2="848.4" stroke="#111" stroke-width="1.3"/>
<text x="63.8" y="859.2" font-size="10" text-anchor="middle" fill="#111">2</text>
<line x1="83.99" y1="845.4" x2="83.99" y2="848.4" stroke="#111" stroke-width="1.3"/>
<text x="83.7" y="859.2" font-size="10" text-anchor="middle" fill="#111">4</text>
<line x1="104.03" y1="845.4" x2="104.03" y2="848.4" stroke="#111" stroke-width="1.3"/>
<text x="103.6" y="859.2" font-size="10" text-anchor="middle" fill="#111">6</text>
<line x1="124.07" y1="845.4" x2="124.07" y2="848.4" stroke="#111" stroke-width="1.3"/>
<text x="123.5" y="859.2" font-size="10" text-anchor="middle" fill="#111">8</text>
<line x1="144.11" y1="845.4" x2="144.11" y2="848.4" stroke="#111" stroke-width="1.3"/>
<text x="143.4" y="859.2" font-size="10" text-anchor="middle" fill="#111">10</text>
<line x1="164.16" y1="845.4" x2="164.16" y2="848.4" stroke="#111" stroke-width="1.3"/>
<text x="163.3" y="859.2" font-size="10" text-anchor="middle" fill="#111">12</text>
<line x1="184.2" y1="845.4" x2="184.2" y2="848.4" stroke="#111" stroke-width="1.3"/>
<text x="183.2" y="859.2" font-size="10" text-anchor="middle" fill="#111">14</text>
<polyline points="43.9,833 74,838 103.7,840.4 114.1,838 138.9,839.4 174.1,775" fill="none" stroke="#000" stroke-width="1.5" stroke-linejoin="miter"/>
<polyline points="43.9,785.9 74,798.4 103.7,822.3 114.1,794.1 138.9,806.2 174.1,789.7" fill="none" stroke="#000" stroke-width="1.5" stroke-linejoin="miter"/>
<polyline points="43.9,839.7 74,764.1 103.7,776 114.1,775 138.9,737.9 174.1,739.4" fill="none" stroke="#000" stroke-width="1.5" stroke-linejoin="miter"/>
<circle cx="43.9" cy="833" r="2.1" fill="#fff" stroke="#000" stroke-width="1.4"/>
<circle cx="74" cy="838" r="2.1" fill="#fff" stroke="#000" stroke-width="1.4"/>
<circle cx="103.7" cy="840.4" r="2.1" fill="#fff" stroke="#000" stroke-width="1.4"/>
<circle cx="114.1" cy="838" r="2.1" fill="#fff" stroke="#000" stroke-width="1.4"/>
<circle cx="138.9" cy="839.4" r="2.1" fill="#fff" stroke="#000" stroke-width="1.4"/>
<circle cx="174.1" cy="775" r="2.1" fill="#fff" stroke="#000" stroke-width="1.4"/>
<polygon points="43.9,783.95 41.95,787.85 45.85,787.85" fill="#fff" stroke="#000" stroke-width="1.25" stroke-linejoin="round"/>
<polygon points="74,796.45 72.05,800.35 75.95,800.35" fill="#fff" stroke="#000" stroke-width="1.25" stroke-linejoin="round"/>
<polygon points="103.7,820.35 101.75,824.25 105.65,824.25" fill="#fff" stroke="#000" stroke-width="1.25" stroke-linejoin="round"/>
<polygon points="114.1,792.15 112.15,796.05 116.05,796.05" fill="#fff" stroke="#000" stroke-width="1.25" stroke-linejoin="round"/>
<polygon points="138.9,804.25 136.95,808.15 140.85,808.15" fill="#fff" stroke="#000" stroke-width="1.25" stroke-linejoin="round"/>
<polygon points="174.1,787.75 172.15,791.65 176.05,791.65" fill="#fff" stroke="#000" stroke-width="1.25" stroke-linejoin="round"/>
<rect x="41.6" y="837.4" width="4.6" height="4.6" fill="#fff" stroke="#000" stroke-width="1.4"/>
<rect x="71.7" y="761.8" width="4.6" height="4.6" fill="#fff" stroke="#000" stroke-width="1.4"/>
<rect x="101.4" y="773.7" width="4.6" height="4.6" fill="#fff" stroke="#000" stroke-width="1.4"/>
<rect x="111.8" y="772.7" width="4.6" height="4.6" fill="#fff" stroke="#000" stroke-width="1.4"/>
<rect x="136.6" y="735.6" width="4.6" height="4.6" fill="#fff" stroke="#000" stroke-width="1.4"/>
<rect x="171.8" y="737.1" width="4.6" height="4.6" fill="#fff" stroke="#000" stroke-width="1.4"/>
<text x="74.72" y="695.3" font-size="11" textLength="83.1" lengthAdjust="spacingAndGlyphs" fill="#111">liver parameters</text>
<text transform="translate(10,796.25) rotate(-90)" font-size="10.3" textLength="87.83" lengthAdjust="spacingAndGlyphs" fill="#111">GGT, GLDH (U/L)</text>
<text transform="translate(219.8,745.28) rotate(90)" font-size="10.3" textLength="48.09" lengthAdjust="spacingAndGlyphs" fill="#111">AST (U/L)</text>
<text x="57.23" y="872.9" font-size="11" textLength="122.28" lengthAdjust="spacingAndGlyphs" fill="#111">age of the foal in months</text>
<rect x="308.1" y="481.2" width="61.6" height="159.9" fill="#d9d9d9"/>
<line x1="299.2" y1="600.6" x2="462.3" y2="600.6" stroke="#111" stroke-width="2.8" stroke-linecap="round" stroke-dasharray="0 5.26"/>
<line x1="298.7" y1="479.85" x2="298.7" y2="643.35" stroke="#111" stroke-width="1.3"/>
<line x1="462.3" y1="479.85" x2="462.3" y2="643.35" stroke="#111" stroke-width="1.3"/>
<line x1="295.7" y1="642.7" x2="462.3" y2="642.7" stroke="#111" stroke-width="1.3"/>
<line x1="295.7" y1="642.7" x2="298.7" y2="642.7" stroke="#111" stroke-width="1.3"/>
<text x="290.2" y="646.4" font-size="10" text-anchor="end" fill="#111">10</text>
<text x="291.4" y="641.2" font-size="7.2" fill="#111">0</text>
<line x1="295.7" y1="622.43" x2="298.7" y2="622.43" stroke="#111" stroke-width="1.3"/>
<text x="290.2" y="624.33" font-size="10" text-anchor="end" fill="#111">10</text>
<text x="291.4" y="618.43" font-size="7.2" fill="#111">1</text>
<line x1="295.7" y1="602.15" x2="298.7" y2="602.15" stroke="#111" stroke-width="1.3"/>
<text x="290.2" y="604.05" font-size="10" text-anchor="end" fill="#111">10</text>
<text x="291.4" y="598.15" font-size="7.2" fill="#111">2</text>
<line x1="295.7" y1="581.88" x2="298.7" y2="581.88" stroke="#111" stroke-width="1.3"/>
<text x="290.2" y="583.77" font-size="10" text-anchor="end" fill="#111">10</text>
<text x="291.4" y="577.88" font-size="7.2" fill="#111">3</text>
<line x1="295.7" y1="561.6" x2="298.7" y2="561.6" stroke="#111" stroke-width="1.3"/>
<text x="290.2" y="563.5" font-size="10" text-anchor="end" fill="#111">10</text>
<text x="291.4" y="557.6" font-size="7.2" fill="#111">4</text>
<line x1="295.7" y1="541.33" x2="298.7" y2="541.33" stroke="#111" stroke-width="1.3"/>
<text x="290.2" y="543.23" font-size="10" text-anchor="end" fill="#111">10</text>
<text x="291.4" y="537.33" font-size="7.2" fill="#111">5</text>
<line x1="295.7" y1="521.05" x2="298.7" y2="521.05" stroke="#111" stroke-width="1.3"/>
<text x="290.2" y="522.95" font-size="10" text-anchor="end" fill="#111">10</text>
<text x="291.4" y="517.05" font-size="7.2" fill="#111">6</text>
<line x1="295.7" y1="500.77" x2="298.7" y2="500.77" stroke="#111" stroke-width="1.3"/>
<text x="290.2" y="502.67" font-size="10" text-anchor="end" fill="#111">10</text>
<text x="291.4" y="496.77" font-size="7.2" fill="#111">7</text>
<line x1="295.7" y1="480.5" x2="298.7" y2="480.5" stroke="#111" stroke-width="1.3"/>
<text x="290.2" y="482.4" font-size="10" text-anchor="end" fill="#111">10</text>
<text x="291.4" y="476.5" font-size="7.2" fill="#111">8</text>
<line x1="462.3" y1="642.7" x2="465.5" y2="642.7" stroke="#111" stroke-width="1.3"/>
<text x="467.4" y="647.7" font-size="10" fill="#111">10</text>
<text x="479.5" y="640.7" font-size="7.2" fill="#111">3</text>
<line x1="462.3" y1="588.63" x2="465.5" y2="588.63" stroke="#111" stroke-width="1.3"/>
<text x="467.4" y="591.83" font-size="10" fill="#111">10</text>
<text x="479.5" y="586.13" font-size="7.2" fill="#111">4</text>
<line x1="462.3" y1="534.57" x2="465.5" y2="534.57" stroke="#111" stroke-width="1.3"/>
<text x="467.4" y="537.77" font-size="10" fill="#111">10</text>
<text x="479.5" y="532.07" font-size="7.2" fill="#111">5</text>
<line x1="462.3" y1="480.5" x2="465.5" y2="480.5" stroke="#111" stroke-width="1.3"/>
<text x="467.4" y="483.7" font-size="10" fill="#111">10</text>
<text x="479.5" y="478" font-size="7.2" fill="#111">6</text>
<line x1="462.3" y1="600.6" x2="465.3" y2="600.6" stroke="#111" stroke-width="1.3"/>
<line x1="309" y1="642.7" x2="309" y2="645.7" stroke="#111" stroke-width="1.3"/>
<text x="308.1" y="656.4" font-size="10" text-anchor="middle" fill="#111">0</text>
<line x1="329.34" y1="642.7" x2="329.34" y2="645.7" stroke="#111" stroke-width="1.3"/>
<text x="328.54" y="656.4" font-size="10" text-anchor="middle" fill="#111">2</text>
<line x1="349.69" y1="642.7" x2="349.69" y2="645.7" stroke="#111" stroke-width="1.3"/>
<text x="348.99" y="656.4" font-size="10" text-anchor="middle" fill="#111">4</text>
<line x1="370.03" y1="642.7" x2="370.03" y2="645.7" stroke="#111" stroke-width="1.3"/>
<text x="369.43" y="656.4" font-size="10" text-anchor="middle" fill="#111">6</text>
<line x1="390.37" y1="642.7" x2="390.37" y2="645.7" stroke="#111" stroke-width="1.3"/>
<text x="389.87" y="656.4" font-size="10" text-anchor="middle" fill="#111">8</text>
<line x1="410.71" y1="642.7" x2="410.71" y2="645.7" stroke="#111" stroke-width="1.3"/>
<text x="410.31" y="656.4" font-size="10" text-anchor="middle" fill="#111">10</text>
<line x1="431.06" y1="642.7" x2="431.06" y2="645.7" stroke="#111" stroke-width="1.3"/>
<text x="430.76" y="656.4" font-size="10" text-anchor="middle" fill="#111">12</text>
<line x1="451.4" y1="642.7" x2="451.4" y2="645.7" stroke="#111" stroke-width="1.3"/>
<text x="451.2" y="656.4" font-size="10" text-anchor="middle" fill="#111">14</text>
<polyline points="309.4,514.4 339.9,521.8 365.2,593.3 375.2,571.2 395.7,544.5 431.5,537.9" fill="none" stroke="#2b2b2b" stroke-width="1.4" stroke-linejoin="miter"/>
<polyline points="309.4,642.6 339.9,642.6 365.2,501.9 375.2,490.2 395.7,510.4 431.5,484.2" fill="none" stroke="#000" stroke-width="1.6" stroke-linejoin="miter"/>
<circle cx="309.4" cy="514.4" r="2.6" fill="#333"/>
<circle cx="339.9" cy="521.8" r="2.6" fill="#333"/>
<circle cx="365.2" cy="593.3" r="2.6" fill="#333"/>
<circle cx="375.2" cy="571.2" r="2.6" fill="#333"/>
<circle cx="395.7" cy="544.5" r="2.6" fill="#333"/>
<circle cx="431.5" cy="537.9" r="2.6" fill="#333"/>
<rect x="306.7" y="639.9" width="5.4" height="5.4" fill="#000"/>
<rect x="337.2" y="639.9" width="5.4" height="5.4" fill="#000"/>
<rect x="362.5" y="499.2" width="5.4" height="5.4" fill="#000"/>
<rect x="372.5" y="487.5" width="5.4" height="5.4" fill="#000"/>
<rect x="393" y="507.7" width="5.4" height="5.4" fill="#000"/>
<rect x="428.8" y="481.5" width="5.4" height="5.4" fill="#000"/>
<text x="265.11" y="471.7" font-size="16" textLength="12.84" lengthAdjust="spacingAndGlyphs" fill="#111" font-weight="bold">D</text>
<text x="350.87" y="465.7" font-size="15.5" textLength="61.89" lengthAdjust="spacingAndGlyphs" fill="#111">foal # 19</text>
<text transform="translate(272.9,594.38) rotate(-90)" font-size="10.3" textLength="110.84" lengthAdjust="spacingAndGlyphs" fill="#111">NPHV RNA copies/ mL</text>
<text transform="translate(485.6,473.24) rotate(90)" font-size="10.3" textLength="121.23" lengthAdjust="spacingAndGlyphs" fill="#111">anti-NPHV NS3 ab [RLU]</text>
<text x="466.88" y="603.6" font-size="9" textLength="27.2" lengthAdjust="spacingAndGlyphs" fill="#111">cut-off</text>
<text x="317.63" y="669.2" font-size="11" textLength="122.18" lengthAdjust="spacingAndGlyphs" fill="#111">age of the foal in months</text>
<rect x="306.2" y="685" width="64.6" height="159.1" fill="#d9d9d9"/>
<line x1="300.6" y1="684.45" x2="300.6" y2="846.35" stroke="#111" stroke-width="1.3"/>
<line x1="461.8" y1="684.45" x2="461.8" y2="846.35" stroke="#111" stroke-width="1.3"/>
<line x1="297.6" y1="845.7" x2="461.8" y2="845.7" stroke="#111" stroke-width="1.3"/>
<line x1="297.6" y1="845.7" x2="300.6" y2="845.7" stroke="#111" stroke-width="1.3"/>
<text x="294.7" y="848.08" font-size="10" text-anchor="end" fill="#111">0</text>
<text x="296.3" y="828.34" font-size="10" text-anchor="end" fill="#111">5</text>
<line x1="297.6" y1="805.55" x2="300.6" y2="805.55" stroke="#111" stroke-width="1.3"/>
<text x="296.3" y="808.61" font-size="10" text-anchor="end" fill="#111">10</text>
<text x="296.3" y="788.87" font-size="10" text-anchor="end" fill="#111">15</text>
<line x1="297.6" y1="765.4" x2="300.6" y2="765.4" stroke="#111" stroke-width="1.3"/>
<text x="296.3" y="769.13" font-size="10" text-anchor="end" fill="#111">20</text>
<text x="296.3" y="749.39" font-size="10" text-anchor="end" fill="#111">25</text>
<line x1="297.6" y1="725.25" x2="300.6" y2="725.25" stroke="#111" stroke-width="1.3"/>
<text x="296.3" y="729.66" font-size="10" text-anchor="end" fill="#111">30</text>
<text x="296.3" y="709.92" font-size="10" text-anchor="end" fill="#111">35</text>
<line x1="297.6" y1="685.1" x2="300.6" y2="685.1" stroke="#111" stroke-width="1.3"/>
<text x="296.3" y="691.38" font-size="10" text-anchor="end" fill="#111">40</text>
<line x1="461.8" y1="845.7" x2="465" y2="845.7" stroke="#111" stroke-width="1.3"/>
<text x="466.3" y="847.28" font-size="10" fill="#111">60</text>
<line x1="461.8" y1="813.58" x2="465" y2="813.58" stroke="#111" stroke-width="1.3"/>
<text x="466.3" y="817.56" font-size="10" fill="#111">100</text>
<line x1="461.8" y1="781.46" x2="465" y2="781.46" stroke="#111" stroke-width="1.3"/>
<text x="466.3" y="785.44" font-size="10" fill="#111">140</text>
<line x1="461.8" y1="749.34" x2="465" y2="749.34" stroke="#111" stroke-width="1.3"/>
<text x="466.3" y="753.32" font-size="10" fill="#111">180</text>
<line x1="461.8" y1="717.22" x2="465" y2="717.22" stroke="#111" stroke-width="1.3"/>
<text x="466.3" y="721.2" font-size="10" fill="#111">220</text>
<line x1="461.8" y1="685.1" x2="465" y2="685.1" stroke="#111" stroke-width="1.3"/>
<text x="466.3" y="691.48" font-size="10" fill="#111">260</text>
<line x1="310.3" y1="845.7" x2="310.3" y2="848.7" stroke="#111" stroke-width="1.3"/>
<text x="310.3" y="859.3" font-size="10" text-anchor="middle" fill="#111">0</text>
<line x1="330.46" y1="845.7" x2="330.46" y2="848.7" stroke="#111" stroke-width="1.3"/>
<text x="330.33" y="859.3" font-size="10" text-anchor="middle" fill="#111">2</text>
<line x1="350.61" y1="845.7" x2="350.61" y2="848.7" stroke="#111" stroke-width="1.3"/>
<text x="350.36" y="859.3" font-size="10" text-anchor="middle" fill="#111">4</text>
<line x1="370.77" y1="845.7" x2="370.77" y2="848.7" stroke="#111" stroke-width="1.3"/>
<text x="370.39" y="859.3" font-size="10" text-anchor="middle" fill="#111">6</text>
<line x1="390.93" y1="845.7" x2="390.93" y2="848.7" stroke="#111" stroke-width="1.3"/>
<text x="390.41" y="859.3" font-size="10" text-anchor="middle" fill="#111">8</text>
<line x1="411.09" y1="845.7" x2="411.09" y2="848.7" stroke="#111" stroke-width="1.3"/>
<text x="410.44" y="859.3" font-size="10" text-anchor="middle" fill="#111">10</text>
<line x1="431.24" y1="845.7" x2="431.24" y2="848.7" stroke="#111" stroke-width="1.3"/>
<text x="430.47" y="859.3" font-size="10" text-anchor="middle" fill="#111">12</text>
<line x1="451.4" y1="845.7" x2="451.4" y2="848.7" stroke="#111" stroke-width="1.3"/>
<text x="450.5" y="859.3" font-size="10" text-anchor="middle" fill="#111">14</text>
<polyline points="310.5,827.4 340.6,776.1 370.4,837.1 375.9,833.4 396.1,837.5 431.7,819.8" fill="none" stroke="#000" stroke-width="1.5" stroke-linejoin="miter"/>
<polyline points="310.5,778.1 340.6,782.1 370.4,802.3 375.9,802.3 396.1,810.3 431.7,774" fill="none" stroke="#000" stroke-width="1.5" stroke-linejoin="miter"/>
<polyline points="310.5,829.8 340.6,744.8 370.4,761 375.9,761 396.1,717.2 431.7,712.6" fill="none" stroke="#000" stroke-width="1.5" stroke-linejoin="miter"/>
<circle cx="310.5" cy="827.4" r="2.1" fill="#fff" stroke="#000" stroke-width="1.4"/>
<circle cx="340.6" cy="776.1" r="2.1" fill="#fff" stroke="#000" stroke-width="1.4"/>
<circle cx="370.4" cy="837.1" r="2.1" fill="#fff" stroke="#000" stroke-width="1.4"/>
<circle cx="375.9" cy="833.4" r="2.1" fill="#fff" stroke="#000" stroke-width="1.4"/>
<circle cx="396.1" cy="837.5" r="2.1" fill="#fff" stroke="#000" stroke-width="1.4"/>
<circle cx="431.7" cy="819.8" r="2.1" fill="#fff" stroke="#000" stroke-width="1.4"/>
<polygon points="310.5,776.15 308.55,780.05 312.45,780.05" fill="#fff" stroke="#000" stroke-width="1.25" stroke-linejoin="round"/>
<polygon points="340.6,780.15 338.65,784.05 342.55,784.05" fill="#fff" stroke="#000" stroke-width="1.25" stroke-linejoin="round"/>
<polygon points="370.4,800.35 368.45,804.25 372.35,804.25" fill="#fff" stroke="#000" stroke-width="1.25" stroke-linejoin="round"/>
<polygon points="375.9,800.35 373.95,804.25 377.85,804.25" fill="#fff" stroke="#000" stroke-width="1.25" stroke-linejoin="round"/>
<polygon points="396.1,808.35 394.15,812.25 398.05,812.25" fill="#fff" stroke="#000" stroke-width="1.25" stroke-linejoin="round"/>
<polygon points="431.7,772.05 429.75,775.95 433.65,775.95" fill="#fff" stroke="#000" stroke-width="1.25" stroke-linejoin="round"/>
<rect x="308.2" y="827.5" width="4.6" height="4.6" fill="#fff" stroke="#000" stroke-width="1.4"/>
<rect x="338.3" y="742.5" width="4.6" height="4.6" fill="#fff" stroke="#000" stroke-width="1.4"/>
<rect x="368.1" y="758.7" width="4.6" height="4.6" fill="#fff" stroke="#000" stroke-width="1.4"/>
<rect x="373.6" y="758.7" width="4.6" height="4.6" fill="#fff" stroke="#000" stroke-width="1.4"/>
<rect x="393.8" y="714.9" width="4.6" height="4.6" fill="#fff" stroke="#000" stroke-width="1.4"/>
<rect x="429.4" y="710.3" width="4.6" height="4.6" fill="#fff" stroke="#000" stroke-width="1.4"/>
<text x="341.63" y="695.7" font-size="11" textLength="82.09" lengthAdjust="spacingAndGlyphs" fill="#111">liver parameters</text>
<text transform="translate(277.5,796.45) rotate(-90)" font-size="10.3" textLength="87.53" lengthAdjust="spacingAndGlyphs" fill="#111">GGT, GLDH (U/L)</text>
<text transform="translate(486.8,746.58) rotate(90)" font-size="10.3" textLength="48.6" lengthAdjust="spacingAndGlyphs" fill="#111">AST (U/L)</text>
<text x="323.62" y="871.6" font-size="11" textLength="122.78" lengthAdjust="spacingAndGlyphs" fill="#111">age of the foal in months</text>
<rect x="46.7" y="894.1" width="404.7" height="61.2" fill="none" stroke="#222" stroke-width="1.3"/>
<rect x="58.45" y="902.95" width="9.5" height="9.5" fill="#000"/>
<circle cx="63.2" cy="924.9" r="4.85" fill="#333"/>
<text x="75.41" y="911.6" font-size="10.8" textLength="56.32" lengthAdjust="spacingAndGlyphs" fill="#111">NPHV RNA</text>
<text x="75.84" y="928.3" font-size="10.8" textLength="151.24" lengthAdjust="spacingAndGlyphs" fill="#111">anti-NPHV NS3 antibodies (ab)</text>
<circle cx="264.5" cy="908.35" r="3.55" fill="#fff" stroke="#000" stroke-width="1.8"/>
<polygon points="264.2,921.4 261,927.8 267.4,927.8" fill="#fff" stroke="#000" stroke-width="1.8" stroke-linejoin="round"/>
<rect x="261.05" y="939.05" width="6.7" height="6.7" fill="#fff" stroke="#000" stroke-width="1.8"/>
<text x="276.75" y="912.2" font-size="10.8" textLength="165.63" lengthAdjust="spacingAndGlyphs" fill="#111">glutamate dehydrogenase (GLDH)</text>
<text x="277.16" y="928.9" font-size="10.8" textLength="141.52" lengthAdjust="spacingAndGlyphs" fill="#111">γ-glutamyl transferase (GGT)</text>
<text x="276.74" y="945.8" font-size="10.8" textLength="167.24" lengthAdjust="spacingAndGlyphs" fill="#111">aspartate amino transferase (AST)</text>
</svg>
</body></html>
